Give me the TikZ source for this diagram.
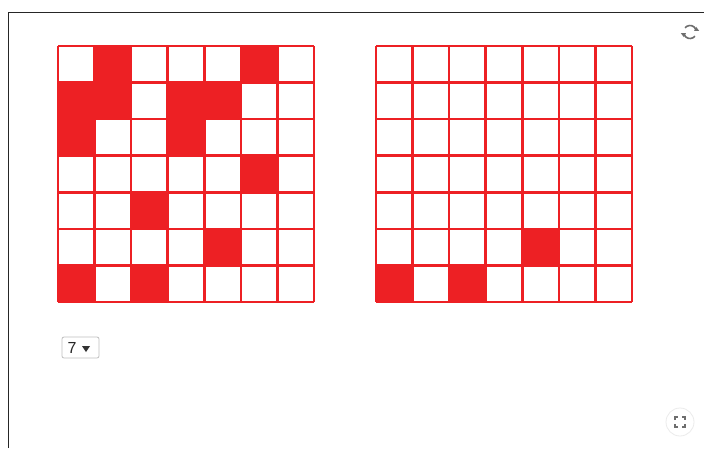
\documentclass[tikz,border=0pt]{standalone}
\usepackage{fontspec}
\setmainfont{Liberation Sans}
\definecolor{gred}{RGB}{237,32,36}
\definecolor{icon}{RGB}{110,110,110}
\begin{document}
\begin{tikzpicture}[x=1pt,y=-1pt,
  cellline/.style={draw=gred,line width=2.5pt},
  filled/.style={fill=gred}]
\useasboundingbox (0,0) rectangle (704,448);
\fill[white] (0,0) rectangle (704,448);
% frame
\draw[line width=1.2pt,black!85] (8.5,448) -- (8.5,12.5) -- (704,12.5);
% left grid
\def\cs{36.57}
\foreach \r/\c in {0/1,0/5,1/0,1/1,1/3,1/4,2/0,2/3,3/5,4/2,5/4,6/0,6/2}{
  \fill[gred] ({58+\c*\cs},{46+\r*\cs}) rectangle ({58+(\c+1)*\cs},{46+(\r+1)*\cs});
}
\foreach \i in {0,...,7}{
  \draw[cellline] ({58+\i*\cs},46) -- ({58+\i*\cs},302);
  \draw[cellline] (58,{46+\i*\cs}) -- (314,{46+\i*\cs});
}
% right grid
\foreach \r/\c in {5/4,6/0,6/2}{
  \fill[gred] ({376+\c*\cs},{46+\r*\cs}) rectangle ({376+(\c+1)*\cs},{46+(\r+1)*\cs});
}
\foreach \i in {0,...,7}{
  \draw[cellline] ({376+\i*\cs},46) -- ({376+\i*\cs},302);
  \draw[cellline] (376,{46+\i*\cs}) -- (632,{46+\i*\cs});
}
% dropdown
\node[draw=black!25,rounded corners=2pt,minimum width=37pt,minimum height=21pt,line width=0.8pt] (dd) at (80.5,347.5) {};
\node[font=\fontsize{16}{16}\selectfont,text=black!85,anchor=center] (seven) at (72,348) {7};
\fill[black!80] (82,346) -- (90,346) -- (86,352) -- cycle;
% reload icon
\begin{scope}[shift={(690,32)}]
  \draw[icon,line width=1.6pt] (40:6.5) arc (40:160:6.5);
  \draw[icon,line width=1.6pt] (220:6.5) arc (220:340:6.5);
  \fill[icon] (160:6.5) ++(-3,-1) -- ++(5,0) -- ++(-2,4) -- cycle;
  \fill[icon] (340:6.5) ++(3,1) -- ++(-5,0) -- ++(2,-4) -- cycle;
\end{scope}
% expand icon
\begin{scope}[shift={(680,422)}]
  \draw[black!8,line width=0.8pt,fill=white] (0,0) circle (14);
  \draw[icon,line width=1.4pt] (-5,-2) -- (-5,-5) -- (-2,-5);
  \draw[icon,line width=1.4pt] (2,-5) -- (5,-5) -- (5,-2);
  \draw[icon,line width=1.4pt] (5,2) -- (5,5) -- (2,5);
  \draw[icon,line width=1.4pt] (-2,5) -- (-5,5) -- (-5,2);
\end{scope}
\end{tikzpicture}
\end{document}
